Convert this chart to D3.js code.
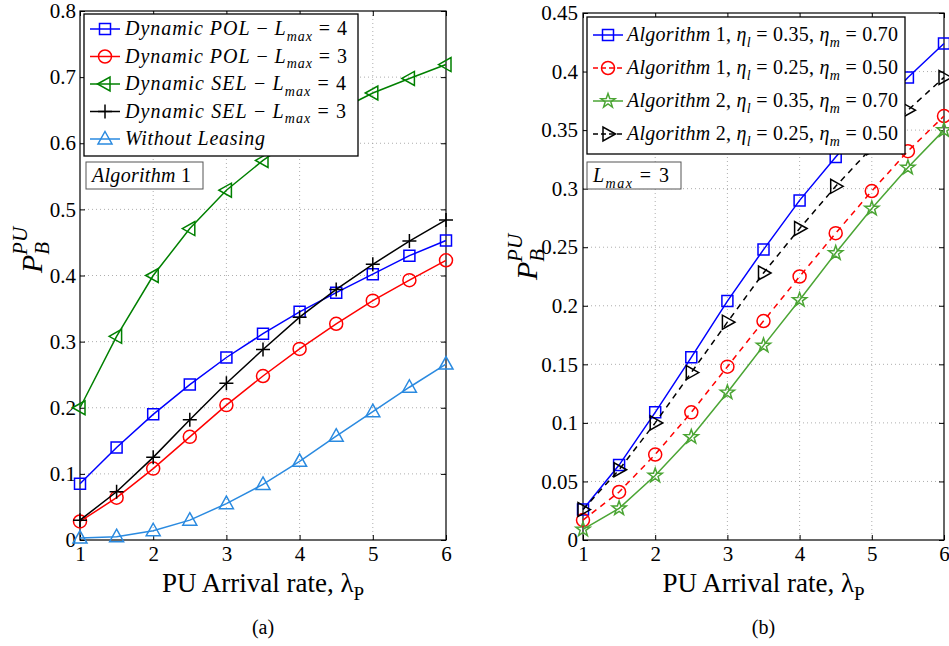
<!DOCTYPE html>
<html>
<head>
<meta charset="utf-8">
<script src="https://cdn.jsdelivr.net/npm/d3@7"></script>
<style>
  body { margin: 0; background: #fff; }
</style>
</head>
<body>
<div id="chart"></div>
<script>
// PU blocking probability vs PU arrival rate, two panels (a) and (b)
const FONT = 'Liberation Serif';

const lambda = [1, 1.5, 2, 2.5, 3, 3.5, 4, 4.5, 5, 5.5, 6];
const xTicks = [1, 2, 3, 4, 5, 6];

// panel (a)
const polL4   = [0.085, 0.140, 0.190, 0.235, 0.276, 0.312, 0.345, 0.374, 0.402, 0.430, 0.453];
const polL3   = [0.028, 0.064, 0.108, 0.156, 0.204, 0.248, 0.289, 0.327, 0.362, 0.393, 0.423];
const selL4   = [0.200, 0.308, 0.400, 0.471, 0.529, 0.574, 0.612, 0.648, 0.676, 0.698, 0.719];
const selL3   = [0.030, 0.073, 0.125, 0.182, 0.237, 0.288, 0.337, 0.379, 0.417, 0.452, 0.484];
const noLease = [0.003, 0.005, 0.014, 0.030, 0.055, 0.084, 0.119, 0.157, 0.194, 0.231, 0.266];
const yTicksA = [0, 0.1, 0.2, 0.3, 0.4, 0.5, 0.6, 0.7, 0.8];
const yTickLabelsA = ['0', '0.1', '0.2', '0.3', '0.4', '0.5', '0.6', '0.7', '0.8'];

// panel (b)
const alg1High = [0.026, 0.064, 0.109, 0.156, 0.204, 0.248, 0.290, 0.327, 0.362, 0.395, 0.424];
const alg1Low  = [0.017, 0.041, 0.073, 0.109, 0.148, 0.187, 0.225, 0.262, 0.298, 0.332, 0.362];
const alg2High = [0.009, 0.027, 0.055, 0.088, 0.126, 0.166, 0.205, 0.245, 0.283, 0.318, 0.350];
const alg2Low  = [0.026, 0.060, 0.100, 0.143, 0.186, 0.228, 0.266, 0.302, 0.335, 0.367, 0.395];
const yTicksB = [0, 0.05, 0.1, 0.15, 0.2, 0.25, 0.3, 0.35, 0.4, 0.45];
const yTickLabelsB = ['0', '0.05', '0.1', '0.15', '0.2', '0.25', '0.3', '0.35', '0.4', '0.45'];

// legend labels as [text, kind] pieces: i = italic, s = italic subscript, r = roman
const labelsA = [
  [['Dynamic POL', 'i'], [' − ', 'r'], ['L', 'i'], ['max', 's'], [' = 4', 'r']],
  [['Dynamic POL', 'i'], [' − ', 'r'], ['L', 'i'], ['max', 's'], [' = 3', 'r']],
  [['Dynamic SEL', 'i'], [' − ', 'r'], ['L', 'i'], ['max', 's'], [' = 4', 'r']],
  [['Dynamic SEL', 'i'], [' − ', 'r'], ['L', 'i'], ['max', 's'], [' = 3', 'r']],
  [['Without Leasing', 'i']]
];
const labelsB = [
  [['Algorithm', 'i'], [' 1, ', 'r'], ['η', 'i'], ['l', 's'], [' = 0.35, ', 'r'], ['η', 'i'], ['m', 's'], [' = 0.70', 'r']],
  [['Algorithm', 'i'], [' 1, ', 'r'], ['η', 'i'], ['l', 's'], [' = 0.25, ', 'r'], ['η', 'i'], ['m', 's'], [' = 0.50', 'r']],
  [['Algorithm', 'i'], [' 2, ', 'r'], ['η', 'i'], ['l', 's'], [' = 0.35, ', 'r'], ['η', 'i'], ['m', 's'], [' = 0.70', 'r']],
  [['Algorithm', 'i'], [' 2, ', 'r'], ['η', 'i'], ['l', 's'], [' = 0.25, ', 'r'], ['η', 'i'], ['m', 's'], [' = 0.50', 'r']]
];

const W = 949, H = 646;
const svg = d3.select('#chart').append('svg')
  .attr('width', W)
  .attr('height', H)
  .attr('font-family', FONT);

// marker shapes, centred on 0,0
function markerPath(type) {
  const p = d3.path();
  if (type === 'square') {
    p.rect(-5.5, -5.5, 11, 11);
  } else if (type === 'circle') {
    p.moveTo(6.5, 0);
    p.arc(0, 0, 6.5, 0, 2 * Math.PI);
  } else if (type === 'triUp') {
    p.moveTo(0, -7.5); p.lineTo(7, 5); p.lineTo(-7, 5); p.closePath();
  } else if (type === 'triLeft') {
    p.moveTo(-7.5, 0); p.lineTo(5, -7); p.lineTo(5, 7); p.closePath();
  } else if (type === 'triRight') {
    p.moveTo(7.5, 0); p.lineTo(-5, -7); p.lineTo(-5, 7); p.closePath();
  } else if (type === 'plus') {
    p.moveTo(-7, 0); p.lineTo(7, 0); p.moveTo(0, -7); p.lineTo(0, 7);
  } else if (type === 'star') {
    for (let k = 0; k < 10; k++) {
      const r = k % 2 === 0 ? 7.5 : 3;
      const a = -Math.PI / 2 + k * Math.PI / 5;
      if (k === 0) p.moveTo(r * Math.cos(a), r * Math.sin(a));
      else p.lineTo(r * Math.cos(a), r * Math.sin(a));
    }
    p.closePath();
  }
  return p.toString();
}

// rich text with italic / subscript pieces
function richText(sel, pieces, size) {
  let shifted = false;
  pieces.forEach(([t, kind]) => {
    const ts = sel.append('tspan').text(t).attr('font-family', FONT);
    if (kind === 's') {
      ts.attr('font-style', 'italic').attr('font-size', size * 0.7).attr('dy', size * 0.28);
      shifted = true;
    } else {
      ts.attr('font-style', kind === 'i' ? 'italic' : 'normal').attr('font-size', size);
      if (shifted) { ts.attr('dy', -size * 0.28); shifted = false; }
    }
  });
}

function drawPanel(cfg) {
  const x = d3.scaleLinear().domain([1, 6]).range([cfg.left, cfg.right]);
  const y = d3.scaleLinear().domain([0, cfg.yMax]).range([cfg.bottom, cfg.top]);
  const g = svg.append('g');

  // dotted grid
  g.selectAll('.gx').data(xTicks.slice(1, -1)).enter().append('line')
    .attr('x1', d => x(d)).attr('x2', d => x(d))
    .attr('y1', cfg.top).attr('y2', cfg.bottom)
    .attr('stroke', '#999').attr('stroke-width', 0.8).attr('stroke-dasharray', '1,3');
  g.selectAll('.gy').data(cfg.yTicks.slice(1, -1)).enter().append('line')
    .attr('x1', cfg.left).attr('x2', cfg.right)
    .attr('y1', d => y(d)).attr('y2', d => y(d))
    .attr('stroke', '#999').attr('stroke-width', 0.8).attr('stroke-dasharray', '1,3');

  // axes with inward ticks on all sides, labels on bottom and left
  const bottomAxis = d3.axisBottom(x).tickValues(xTicks).tickSizeInner(-5).tickSizeOuter(0).tickPadding(6).tickFormat(d3.format('d'));
  const leftAxis = d3.axisLeft(y).tickValues(cfg.yTicks).tickSizeInner(-5).tickSizeOuter(0).tickPadding(cfg.yPad)
    .tickFormat((d, i) => cfg.yTickLabels[i]);
  const topAxis = d3.axisTop(x).tickValues(xTicks).tickSizeInner(-5).tickSizeOuter(0).tickFormat('');
  const rightAxis = d3.axisRight(y).tickValues(cfg.yTicks).tickSizeInner(-5).tickSizeOuter(0).tickFormat('');

  [[bottomAxis, `translate(0,${cfg.bottom})`], [leftAxis, `translate(${cfg.left},0)`],
   [topAxis, `translate(0,${cfg.top})`], [rightAxis, `translate(${cfg.right},0)`]].forEach(([ax, tr]) => {
    const a = g.append('g').attr('transform', tr).call(ax)
      .attr('font-family', FONT).attr('font-size', 21);
    a.select('.domain').remove();
    a.selectAll('line').attr('stroke', '#000').attr('stroke-width', 1);
    a.selectAll('text').attr('font-family', FONT).attr('font-size', 21).attr('fill', '#000');
  });
  g.append('rect')
    .attr('x', cfg.left).attr('y', cfg.top)
    .attr('width', cfg.right - cfg.left).attr('height', cfg.bottom - cfg.top)
    .attr('fill', 'none').attr('stroke', '#000').attr('stroke-width', 1.2);

  // series
  const line = d3.line().x((d, i) => x(lambda[i])).y(d => y(d));
  cfg.series.forEach(s => {
    g.append('path').datum(s.values)
      .attr('d', line)
      .attr('fill', 'none').attr('stroke', s.color).attr('stroke-width', 1.5)
      .attr('stroke-dasharray', s.dash || null);
    g.selectAll(null).data(s.values).enter().append('path')
      .attr('d', markerPath(s.marker))
      .attr('transform', (d, i) => `translate(${x(lambda[i])},${y(d)})`)
      .attr('fill', 'none').attr('stroke', s.color).attr('stroke-width', 1.5);
  });

  // legend
  const lg = cfg.legend;
  g.append('rect')
    .attr('x', lg.x).attr('y', lg.y).attr('width', lg.w).attr('height', lg.h)
    .attr('fill', '#fff').attr('stroke', '#000').attr('stroke-width', 1.3);
  cfg.series.forEach((s, i) => {
    const cy = lg.y + lg.first + i * lg.step;
    g.append('line')
      .attr('x1', lg.x + 6).attr('x2', lg.x + 36).attr('y1', cy).attr('y2', cy)
      .attr('stroke', s.color).attr('stroke-width', 1.5)
      .attr('stroke-dasharray', s.dash ? '5,3' : null);
    g.append('path').attr('d', markerPath(s.marker))
      .attr('transform', `translate(${lg.x + 21},${cy})`)
      .attr('fill', 'none').attr('stroke', s.color).attr('stroke-width', 1.5);
    const t = g.append('text')
      .attr('x', lg.x + lg.textX).attr('y', cy + 6)
      .attr('font-family', FONT).attr('font-size', lg.font).attr('fill', '#000')
      .attr('textLength', lg.textW[i]).attr('lengthAdjust', 'spacing');
    richText(t, s.label, lg.font);
  });

  // annotation box
  const nb = cfg.note;
  g.append('rect')
    .attr('x', nb.x).attr('y', nb.y).attr('width', nb.w).attr('height', 27)
    .attr('fill', '#fff').attr('stroke', '#555').attr('stroke-width', 1);
  const nt = g.append('text').attr('x', nb.x + 6).attr('y', nb.y + 20)
    .attr('font-family', FONT).attr('font-size', 20).attr('fill', '#000')
    .attr('textLength', nb.textW).attr('lengthAdjust', 'spacing');
  richText(nt, nb.text, 20);

  // axis titles
  const xt = g.append('text')
    .attr('x', (cfg.left + cfg.right) / 2).attr('y', 592)
    .attr('text-anchor', 'middle').attr('font-family', FONT).attr('font-size', 27).attr('fill', '#000');
  xt.append('tspan').text('PU Arrival rate, λ');
  xt.append('tspan').text('P').attr('font-size', 19).attr('dy', 8);

  const yt = g.append('text')
    .attr('transform', `translate(${cfg.yLabelX},${cfg.yLabelY}) rotate(-90)`)
    .attr('text-anchor', 'middle').attr('font-family', FONT)
    .attr('font-size', 30).attr('font-style', 'italic').attr('fill', '#000');
  yt.append('tspan').text('P');
  yt.append('tspan').text('B').attr('font-size', 21).attr('dy', 7);
  yt.append('tspan').text('PU').attr('font-size', 21).attr('dx', -13).attr('dy', -22);

  g.append('text')
    .attr('x', (cfg.left + cfg.right) / 2).attr('y', 634)
    .attr('text-anchor', 'middle').attr('font-family', FONT).attr('font-size', 20).attr('fill', '#000')
    .text(cfg.caption);
}

drawPanel({
  left: 80, right: 446, top: 11, bottom: 540, yMax: 0.8, yPad: 4,
  yTicks: yTicksA, yTickLabels: yTickLabelsA,
  series: [
    { values: polL4, color: '#0000ff', marker: 'square', label: labelsA[0] },
    { values: polL3, color: '#ff0000', marker: 'circle', label: labelsA[1] },
    { values: selL4, color: '#008000', marker: 'triLeft', label: labelsA[2] },
    { values: selL3, color: '#000000', marker: 'plus', label: labelsA[3] },
    { values: noLease, color: '#2a8ae0', marker: 'triUp', label: labelsA[4] }
  ],
  legend: { x: 84, y: 14, w: 274, h: 142, first: 15, step: 27.5, font: 20, textX: 41,
            textW: [222, 222, 221, 221, 140] },
  note: { x: 86, y: 162, w: 117, textW: 99, text: [['Algorithm', 'i'], [' 1', 'r']] },
  yLabelX: 42, yLabelY: 250,
  caption: '(a)'
});

drawPanel({
  left: 583, right: 944, top: 13, bottom: 540, yMax: 0.45, yPad: 5,
  yTicks: yTicksB, yTickLabels: yTickLabelsB,
  series: [
    { values: alg1High, color: '#0000ff', marker: 'square', label: labelsB[0] },
    { values: alg1Low, color: '#ff0000', marker: 'circle', dash: '6,5', label: labelsB[1] },
    { values: alg2High, color: '#4ba534', marker: 'star', label: labelsB[2] },
    { values: alg2Low, color: '#000000', marker: 'triRight', dash: '6,5', label: labelsB[3] }
  ],
  legend: { x: 587, y: 17, w: 318, h: 137, first: 18, step: 33, font: 20, textX: 40,
            textW: [271, 271, 271, 271] },
  note: { x: 587, y: 162, w: 94, textW: 76, text: [['L', 'i'], ['max', 's'], [' = 3', 'r']] },
  yLabelX: 537, yLabelY: 257,
  caption: '(b)'
});
</script>
</body>
</html>
